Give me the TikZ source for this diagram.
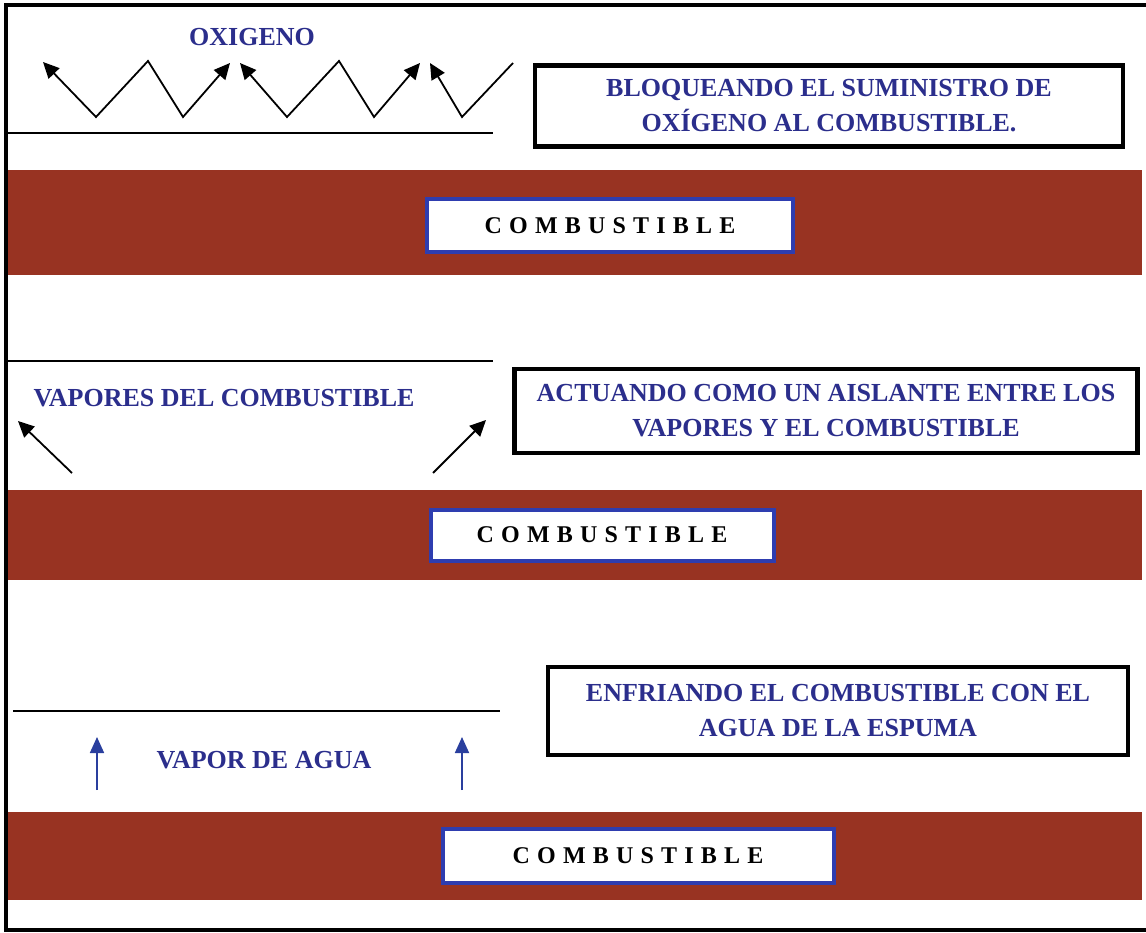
\documentclass[tikz,border=0pt]{standalone}
\usepackage{fontspec}
\setmainfont{Liberation Serif}
\newfontfamily\labelfont{Liberation Serif}
\newfontfamily\combfont[LetterSpace=30]{Liberation Serif}
\usepackage{tikz}
\usetikzlibrary{arrows.meta}
\definecolor{fuelbrown}{HTML}{983322}
\definecolor{textblue}{HTML}{2B2E8C}
\definecolor{frameblue}{HTML}{2E3DB0}
\definecolor{arrowblue}{HTML}{2A3F9E}

\begin{document}
\begin{tikzpicture}[x=1pt, y=-1pt,
    band/.style={fill=fuelbrown},
    fuelbox/.style={draw=frameblue, line width=4pt, fill=white, inner sep=0pt,
        font=\combfont\bfseries\fontsize{24}{28}\selectfont},
    notebox/.style={draw=black, line width=4.5pt, fill=white, align=center, inner sep=0pt,
        text=textblue, font=\labelfont\bfseries\fontsize{26}{35}\selectfont},
    bluelabel/.style={text=textblue, inner sep=0pt, font=\labelfont\bfseries\fontsize{26}{30}\selectfont},
    surface/.style={line width=1.5pt},
    flow/.style={line width=1.8pt, {Triangle[length=16pt,width=15pt]}-{Triangle[length=16pt,width=15pt]}},
    rise/.style={line width=1.8pt, -{Triangle[length=16pt,width=15pt]}},
    steam/.style={line width=1.8pt, draw=arrowblue, -{Triangle[length=16pt,width=14pt]}}
]
\useasboundingbox (0,0) rectangle (1146,933);
\draw[line width=3.5pt] (1146,5) -- (6,5) -- (6,930) -- (1146,930);

% fuel layers
\fill[band] (8,170) rectangle (1142,275);
\fill[band] (8,490) rectangle (1142,580);
\fill[band] (8,812) rectangle (1142,900);
\node[fuelbox, minimum width=366pt, minimum height=53pt] (fuelA) at (610,226) {COMBUSTIBLE};
\node[fuelbox, minimum width=343pt, minimum height=51pt] (fuelB) at (602,535) {COMBUSTIBLE};
\node[fuelbox, minimum width=391pt, minimum height=54pt] (fuelC) at (638,856) {COMBUSTIBLE};

% foam surfaces
\coordinate (sA1) at (8,133);   \coordinate (sA2) at (493,133);
\coordinate (sB1) at (8,361);   \coordinate (sB2) at (493,361);
\coordinate (sC1) at (13,711);  \coordinate (sC2) at (500,711);
\draw[surface] (sA1) -- (sA2);
\draw[surface] (sB1) -- (sB2);
\draw[surface] (sC1) -- (sC2);

% notes
\node[notebox, minimum width=588pt, minimum height=81pt] (noteA) at (829,106)
    {BLOQUEANDO EL SUMINISTRO DE\\OXÍGENO AL COMBUSTIBLE.};
\node[notebox, minimum width=623pt, minimum height=84pt] (noteB) at (826,411)
    {ACTUANDO COMO UN AISLANTE ENTRE LOS\\VAPORES Y EL COMBUSTIBLE};
\node[notebox, minimum width=580pt, minimum height=88pt] (noteC) at (838,711)
    {ENFRIANDO EL COMBUSTIBLE CON EL\\AGUA DE LA ESPUMA};

% oxygen
\node[bluelabel] (oxy) at (252,37) {OXIGENO};
\coordinate (o1) at (43,62);   \coordinate (o2) at (96,117);
\coordinate (o3) at (148,61);  \coordinate (o4) at (183,117);
\coordinate (o5) at (230,63);  \coordinate (o6) at (240,63);
\coordinate (o7) at (287,117); \coordinate (o8) at (339,61);
\coordinate (o9) at (374,117); \coordinate (o10) at (420,63);
\coordinate (o11) at (430,63); \coordinate (o12) at (462,117);
\coordinate (o13) at (513,63);
\draw[flow] (o1) -- (o2) -- (o3) -- (o4) -- (o5);
\draw[flow] (o6) -- (o7) -- (o8) -- (o9) -- (o10);
\draw[rise, -, {Triangle[length=16pt,width=15pt]}-] (o11) -- (o12) -- (o13);

% fuel vapours
\node[bluelabel] (vap) at (224,398) {VAPORES DEL COMBUSTIBLE};
\coordinate (v1) at (72,473);  \coordinate (v2) at (18,421);
\coordinate (v3) at (433,473); \coordinate (v4) at (486,420);
\draw[rise] (v1) -- (v2);
\draw[rise] (v3) -- (v4);

% water vapour
\node[bluelabel] (water) at (264,760) {VAPOR DE AGUA};
\coordinate (w1) at (97,790);  \coordinate (w2) at (97,737);
\coordinate (w3) at (462,790); \coordinate (w4) at (462,737);
\draw[steam] (w1) -- (w2);
\draw[steam] (w3) -- (w4);
\end{tikzpicture}
\end{document}
